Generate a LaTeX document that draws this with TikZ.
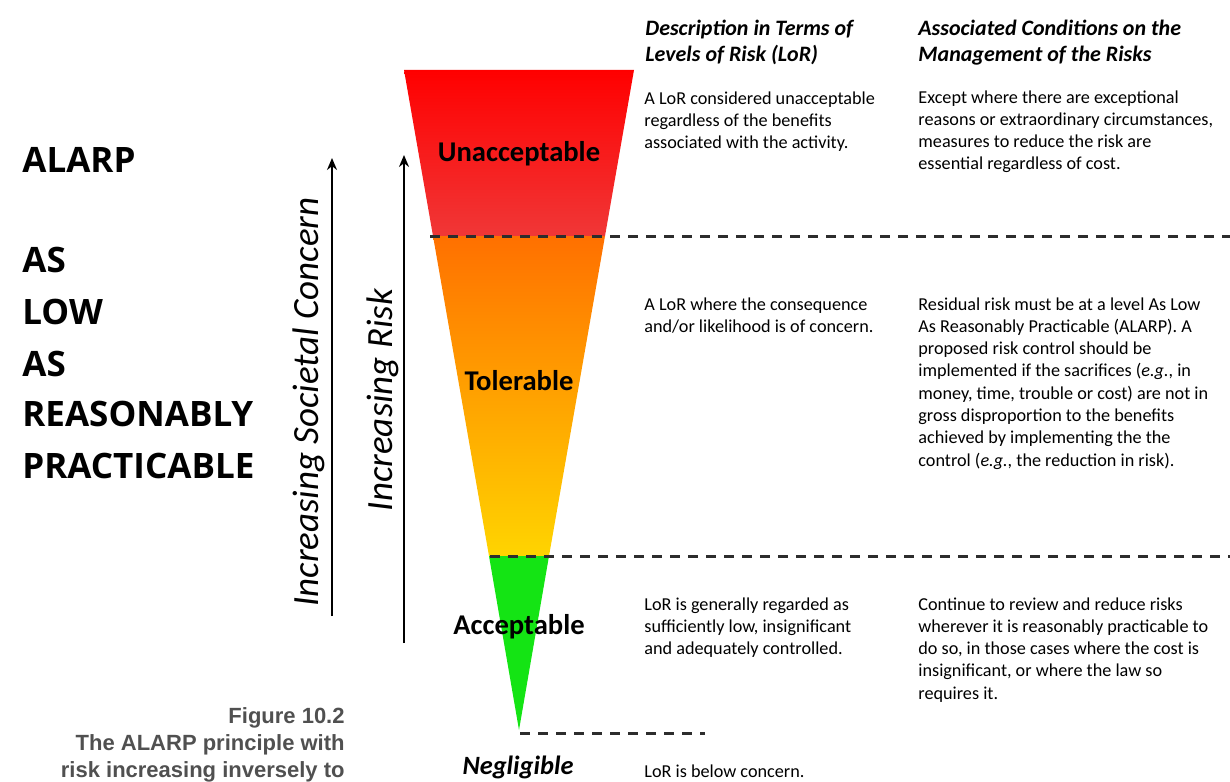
\documentclass[tikz,border=0pt]{standalone}
\usepackage{fontspec}
\setmainfont{Carlito}
\newfontfamily\osans{Open Sans}
\newfontfamily\lsans{Liberation Sans}
\usetikzlibrary{arrows.meta}
\definecolor{rtop}{RGB}{255,0,0}
\definecolor{rbot}{RGB}{240,55,55}
\definecolor{otop}{RGB}{255,112,0}
\definecolor{obot}{RGB}{255,212,0}
\definecolor{grn}{RGB}{20,228,20}
\definecolor{dashc}{RGB}{45,45,45}
\definecolor{capc}{RGB}{80,80,80}
\tikzset{
  body/.style={font=\fontsize{9.1}{11.15}\selectfont, align=left, anchor=north west, inner sep=0pt},
  head/.style={font=\fontsize{11}{13}\selectfont\bfseries\itshape, align=left, anchor=north west, inner sep=0pt},
  zone/.style={font=\fontsize{14.3}{16}\selectfont\bfseries, inner sep=0pt},
  sep/.style={dashc, line width=1.5pt, dash pattern=on 5pt off 4pt},
  uparrow/.style={line width=1.1pt, -{Stealth[length=6pt,width=5pt]}},
  sidelab/.style={font=\fontsize{18.5}{20}\selectfont\itshape, rotate=90, inner sep=0pt},
  big/.style={font=\osans\bfseries\fontsize{17.5}{26}\selectfont, anchor=base west, inner sep=0pt},
  figcap/.style={font=\lsans\bfseries\fontsize{11}{13.6}\selectfont, text=capc, align=right, anchor=north east, inner sep=0pt}
}
\begin{document}
\begin{tikzpicture}[x=0.5pt,y=-0.5pt]
\useasboundingbox (0,0) rectangle (1230,781);
% funnel
\shade[top color=rtop, bottom color=rbot] (404,70) -- (634,70) -- (605,236) -- (433,236) -- cycle;
\shade[top color=otop, bottom color=obot] (433,236) -- (605,236) -- (549,556) -- (489,556) -- cycle;
\fill[grn] (489,556) -- (549,556) -- (519,730) -- cycle;
% separators
\coordinate (s1a) at (430,236); \coordinate (s1b) at (1230,236);
\coordinate (s2a) at (490,556); \coordinate (s2b) at (1230,556);
\coordinate (s3a) at (520,733); \coordinate (s3b) at (705,733);
\draw[sep] (s1a) -- (s1b);
\draw[sep] (s2a) -- (s2b);
\draw[sep] (s3a) -- (s3b);
% zone labels
\node[zone] (unacc) at (519,154) {Unacceptable};
\node[zone] (tol) at (519,381) {Tolerable};
\node[zone] (acc) at (519,627) {Acceptable};
\node[zone, font=\fontsize{13.2}{15}\selectfont\bfseries\itshape] (neg) at (518,767) {Negligible};
% arrows
\coordinate (a1s) at (332,616); \coordinate (a1e) at (332,158);
\coordinate (a2s) at (404,643); \coordinate (a2e) at (404,155);
\draw[uparrow] (a1s) -- (a1e);
\draw[uparrow] (a2s) -- (a2e);
\node[sidelab] (soc) at (309,402) {Increasing Societal Concern};
\node[sidelab] (risk) at (383,400) {Increasing Risk};
% headers
\node[head] (h1) at (645,20) {Description in Terms of\\Levels of Risk (LoR)};
\node[head] (h2) at (918,20) {Associated Conditions on the\\Management of the Risks};
% column texts
\node[body] (d1) at (644,91) {A LoR considered unacceptable\\regardless of the benefits\\associated with the activity.};
\node[body] (c1) at (918,90) {Except where there are exceptional\\reasons or extraordinary circumstances,\\measures to reduce the risk are\\essential regardless of cost.};
\node[body] (d2) at (644,297) {A LoR where the consequence\\and/or likelihood is of concern.};
\node[body] (c2) at (918,297) {Residual risk must be at a level As Low\\As Reasonably Practicable (ALARP). A\\proposed risk control should be\\implemented if the sacrifices (\textit{e.g.}, in\\money, time, trouble or cost) are not in\\gross disproportion to the benefits\\achieved by implementing the the\\control (\textit{e.g.}, the reduction in risk).};
\node[body] (d3) at (644,597) {LoR is generally regarded as\\sufficiently low, insignificant\\and adequately controlled.};
\node[body] (c3) at (918,597) {Continue to review and reduce risks\\wherever it is reasonably practicable to\\do so, in those cases where the cost is\\insignificant, or where the law so\\requires it.};
\node[body] (d4) at (644,764) {LoR is below concern.};
% left title
\node[big] (t1) at (22,172) {ALARP};
\node[big] (t2) at (22,272) {AS};
\node[big] (t3) at (22,324) {LOW};
\node[big] (t4) at (22,376) {AS};
\node[big] (t5) at (22,426) {REASONABLY};
\node[big] (t6) at (22,478) {PRACTICABLE};
% caption
\node[figcap] (fig) at (345,707) {Figure 10.2\\The ALARP principle with\\risk increasing inversely to};
\end{tikzpicture}
\end{document}
